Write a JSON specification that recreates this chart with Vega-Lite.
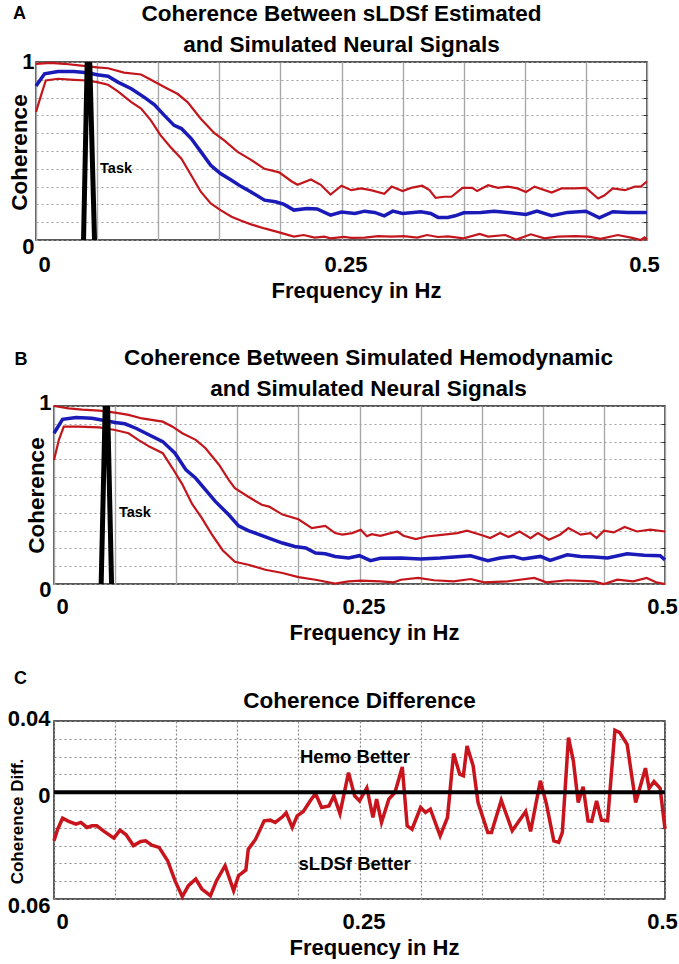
{
  "$schema": "https://vega.github.io/schema/vega-lite/v6.json",
  "padding": {"left": 0, "top": 2, "right": 0, "bottom": 0},
  "background": "white",
  "columns": 1,
  "spacing": 25,
  "config": {
    "font": "Liberation Sans",
    "view": {"stroke": "#222", "strokeWidth": 1.5},
    "axis": {"labelFont": "Liberation Sans", "titleFont": "Liberation Sans", "labelFontWeight": "bold", "titleFontWeight": "bold", "labelColor": "black", "titleColor": "black", "labelOverlap": false, "labelFlush": false, "ticks": false, "tickSize": 0, "domain": false},
    "title": {"font": "Liberation Sans", "fontWeight": "bold", "color": "black"}
  },
  "datasets": {
    "A": [
      {"f":0,"s":"up","v":0.99},{"f":0.012,"s":"up","v":0.995},{"f":0.023,"s":"up","v":0.99},{"f":0.037,"s":"up","v":0.98},{"f":0.05,"s":"up","v":0.97},{"f":0.059,"s":"up","v":0.965},{"f":0.072,"s":"up","v":0.94},{"f":0.086,"s":"up","v":0.93},{"f":0.094,"s":"up","v":0.9},{"f":0.105,"s":"up","v":0.86},{"f":0.116,"s":"up","v":0.82},{"f":0.124,"s":"up","v":0.775},{"f":0.135,"s":"up","v":0.68},{"f":0.146,"s":"up","v":0.6},{"f":0.154,"s":"up","v":0.56},{"f":0.165,"s":"up","v":0.495},{"f":0.176,"s":"up","v":0.45},{"f":0.187,"s":"up","v":0.4},{"f":0.199,"s":"up","v":0.38},{"f":0.209,"s":"up","v":0.33},{"f":0.214,"s":"up","v":0.31},{"f":0.225,"s":"up","v":0.34},{"f":0.233,"s":"up","v":0.31},{"f":0.241,"s":"up","v":0.255},{"f":0.25,"s":"up","v":0.305},{"f":0.258,"s":"up","v":0.28},{"f":0.266,"s":"up","v":0.29},{"f":0.274,"s":"up","v":0.28},{"f":0.285,"s":"up","v":0.26},{"f":0.291,"s":"up","v":0.3},{"f":0.3,"s":"up","v":0.275},{"f":0.307,"s":"up","v":0.293},{"f":0.316,"s":"up","v":0.305},{"f":0.322,"s":"up","v":0.28},{"f":0.327,"s":"up","v":0.237},{"f":0.334,"s":"up","v":0.243},{"f":0.34,"s":"up","v":0.243},{"f":0.349,"s":"up","v":0.293},{"f":0.357,"s":"up","v":0.293},{"f":0.361,"s":"up","v":0.275},{"f":0.37,"s":"up","v":0.308},{"f":0.378,"s":"up","v":0.293},{"f":0.386,"s":"up","v":0.3},{"f":0.394,"s":"up","v":0.29},{"f":0.401,"s":"up","v":0.27},{"f":0.408,"s":"up","v":0.3},{"f":0.422,"s":"up","v":0.267},{"f":0.43,"s":"up","v":0.29},{"f":0.441,"s":"up","v":0.29},{"f":0.45,"s":"up","v":0.293},{"f":0.46,"s":"up","v":0.233},{"f":0.465,"s":"up","v":0.25},{"f":0.472,"s":"up","v":0.29},{"f":0.482,"s":"up","v":0.28},{"f":0.49,"s":"up","v":0.3},{"f":0.495,"s":"up","v":0.3},{"f":0.5,"s":"up","v":0.33},
      {"f":0,"s":"mean","v":0.865},{"f":0.007,"s":"mean","v":0.934},{"f":0.018,"s":"mean","v":0.947},{"f":0.031,"s":"mean","v":0.947},{"f":0.042,"s":"mean","v":0.94},{"f":0.05,"s":"mean","v":0.928},{"f":0.059,"s":"mean","v":0.92},{"f":0.067,"s":"mean","v":0.887},{"f":0.078,"s":"mean","v":0.85},{"f":0.089,"s":"mean","v":0.8},{"f":0.097,"s":"mean","v":0.76},{"f":0.105,"s":"mean","v":0.7},{"f":0.113,"s":"mean","v":0.644},{"f":0.119,"s":"mean","v":0.626},{"f":0.127,"s":"mean","v":0.57},{"f":0.135,"s":"mean","v":0.495},{"f":0.143,"s":"mean","v":0.42},{"f":0.151,"s":"mean","v":0.373},{"f":0.16,"s":"mean","v":0.336},{"f":0.168,"s":"mean","v":0.3},{"f":0.176,"s":"mean","v":0.27},{"f":0.187,"s":"mean","v":0.224},{"f":0.196,"s":"mean","v":0.215},{"f":0.203,"s":"mean","v":0.2},{"f":0.211,"s":"mean","v":0.168},{"f":0.222,"s":"mean","v":0.177},{"f":0.23,"s":"mean","v":0.174},{"f":0.241,"s":"mean","v":0.14},{"f":0.25,"s":"mean","v":0.157},{"f":0.261,"s":"mean","v":0.149},{"f":0.269,"s":"mean","v":0.162},{"f":0.277,"s":"mean","v":0.155},{"f":0.285,"s":"mean","v":0.136},{"f":0.292,"s":"mean","v":0.162},{"f":0.3,"s":"mean","v":0.149},{"f":0.315,"s":"mean","v":0.159},{"f":0.323,"s":"mean","v":0.149},{"f":0.329,"s":"mean","v":0.127},{"f":0.337,"s":"mean","v":0.127},{"f":0.343,"s":"mean","v":0.136},{"f":0.35,"s":"mean","v":0.153},{"f":0.364,"s":"mean","v":0.155},{"f":0.375,"s":"mean","v":0.162},{"f":0.386,"s":"mean","v":0.155},{"f":0.401,"s":"mean","v":0.144},{"f":0.41,"s":"mean","v":0.162},{"f":0.422,"s":"mean","v":0.136},{"f":0.435,"s":"mean","v":0.155},{"f":0.45,"s":"mean","v":0.162},{"f":0.461,"s":"mean","v":0.125},{"f":0.472,"s":"mean","v":0.159},{"f":0.484,"s":"mean","v":0.155},{"f":0.5,"s":"mean","v":0.155},
      {"f":0,"s":"lo","v":0.72},{"f":0.004,"s":"lo","v":0.81},{"f":0.008,"s":"lo","v":0.896},{"f":0.018,"s":"lo","v":0.906},{"f":0.031,"s":"lo","v":0.9},{"f":0.042,"s":"lo","v":0.896},{"f":0.05,"s":"lo","v":0.887},{"f":0.059,"s":"lo","v":0.872},{"f":0.067,"s":"lo","v":0.835},{"f":0.078,"s":"lo","v":0.775},{"f":0.086,"s":"lo","v":0.738},{"f":0.094,"s":"lo","v":0.672},{"f":0.102,"s":"lo","v":0.588},{"f":0.11,"s":"lo","v":0.523},{"f":0.119,"s":"lo","v":0.457},{"f":0.127,"s":"lo","v":0.364},{"f":0.135,"s":"lo","v":0.27},{"f":0.143,"s":"lo","v":0.205},{"f":0.151,"s":"lo","v":0.168},{"f":0.16,"s":"lo","v":0.131},{"f":0.168,"s":"lo","v":0.108},{"f":0.176,"s":"lo","v":0.088},{"f":0.187,"s":"lo","v":0.065},{"f":0.199,"s":"lo","v":0.043},{"f":0.211,"s":"lo","v":0.019},{"f":0.219,"s":"lo","v":0.028},{"f":0.228,"s":"lo","v":0.013},{"f":0.236,"s":"lo","v":0.019},{"f":0.241,"s":"lo","v":0.009},{"f":0.252,"s":"lo","v":0.017},{"f":0.258,"s":"lo","v":0.012},{"f":0.269,"s":"lo","v":0.013},{"f":0.28,"s":"lo","v":0.022},{"f":0.291,"s":"lo","v":0.019},{"f":0.301,"s":"lo","v":0.022},{"f":0.312,"s":"lo","v":0.013},{"f":0.32,"s":"lo","v":0.028},{"f":0.329,"s":"lo","v":0.017},{"f":0.337,"s":"lo","v":0.02},{"f":0.35,"s":"lo","v":0.009},{"f":0.363,"s":"lo","v":0.034},{"f":0.37,"s":"lo","v":0.019},{"f":0.384,"s":"lo","v":0.028},{"f":0.393,"s":"lo","v":0.002},{"f":0.405,"s":"lo","v":0.032},{"f":0.416,"s":"lo","v":0.009},{"f":0.427,"s":"lo","v":0.019},{"f":0.441,"s":"lo","v":0.022},{"f":0.452,"s":"lo","v":0.019},{"f":0.462,"s":"lo","v":0.006},{"f":0.476,"s":"lo","v":0.028},{"f":0.487,"s":"lo","v":0.013},{"f":0.495,"s":"lo","v":0.0},{"f":0.498,"s":"lo","v":0.015},{"f":0.5,"s":"lo","v":0.002}
    ],
    "B": [
      {"f":0,"s":"up","v":1.0},{"f":0.012,"s":"up","v":0.987},{"f":0.023,"s":"up","v":0.98},{"f":0.037,"s":"up","v":0.974},{"f":0.05,"s":"up","v":0.963},{"f":0.061,"s":"up","v":0.95},{"f":0.072,"s":"up","v":0.93},{"f":0.089,"s":"up","v":0.912},{"f":0.097,"s":"up","v":0.884},{"f":0.105,"s":"up","v":0.847},{"f":0.116,"s":"up","v":0.81},{"f":0.124,"s":"up","v":0.763},{"f":0.135,"s":"up","v":0.67},{"f":0.143,"s":"up","v":0.585},{"f":0.148,"s":"up","v":0.538},{"f":0.159,"s":"up","v":0.49},{"f":0.17,"s":"up","v":0.445},{"f":0.176,"s":"up","v":0.435},{"f":0.187,"s":"up","v":0.39},{"f":0.2,"s":"up","v":0.364},{"f":0.211,"s":"up","v":0.314},{"f":0.222,"s":"up","v":0.327},{"f":0.23,"s":"up","v":0.286},{"f":0.236,"s":"up","v":0.277},{"f":0.244,"s":"up","v":0.286},{"f":0.251,"s":"up","v":0.305},{"f":0.256,"s":"up","v":0.268},{"f":0.26,"s":"up","v":0.28},{"f":0.267,"s":"up","v":0.271},{"f":0.281,"s":"up","v":0.295},{"f":0.286,"s":"up","v":0.271},{"f":0.296,"s":"up","v":0.252},{"f":0.305,"s":"up","v":0.267},{"f":0.319,"s":"up","v":0.277},{"f":0.33,"s":"up","v":0.286},{"f":0.338,"s":"up","v":0.3},{"f":0.349,"s":"up","v":0.277},{"f":0.357,"s":"up","v":0.258},{"f":0.365,"s":"up","v":0.286},{"f":0.372,"s":"up","v":0.264},{"f":0.381,"s":"up","v":0.295},{"f":0.39,"s":"up","v":0.258},{"f":0.396,"s":"up","v":0.286},{"f":0.405,"s":"up","v":0.249},{"f":0.414,"s":"up","v":0.277},{"f":0.421,"s":"up","v":0.314},{"f":0.431,"s":"up","v":0.277},{"f":0.439,"s":"up","v":0.286},{"f":0.444,"s":"up","v":0.258},{"f":0.45,"s":"up","v":0.299},{"f":0.458,"s":"up","v":0.29},{"f":0.467,"s":"up","v":0.32},{"f":0.477,"s":"up","v":0.295},{"f":0.488,"s":"up","v":0.305},{"f":0.5,"s":"up","v":0.295},
      {"f":0,"s":"mean","v":0.847},{"f":0.007,"s":"mean","v":0.925},{"f":0.018,"s":"mean","v":0.935},{"f":0.031,"s":"mean","v":0.931},{"f":0.039,"s":"mean","v":0.921},{"f":0.05,"s":"mean","v":0.907},{"f":0.058,"s":"mean","v":0.9},{"f":0.067,"s":"mean","v":0.875},{"f":0.078,"s":"mean","v":0.837},{"f":0.089,"s":"mean","v":0.8},{"f":0.099,"s":"mean","v":0.735},{"f":0.108,"s":"mean","v":0.641},{"f":0.116,"s":"mean","v":0.594},{"f":0.124,"s":"mean","v":0.529},{"f":0.132,"s":"mean","v":0.464},{"f":0.143,"s":"mean","v":0.389},{"f":0.151,"s":"mean","v":0.327},{"f":0.159,"s":"mean","v":0.3},{"f":0.168,"s":"mean","v":0.277},{"f":0.178,"s":"mean","v":0.252},{"f":0.187,"s":"mean","v":0.23},{"f":0.197,"s":"mean","v":0.211},{"f":0.206,"s":"mean","v":0.202},{"f":0.214,"s":"mean","v":0.174},{"f":0.222,"s":"mean","v":0.17},{"f":0.23,"s":"mean","v":0.155},{"f":0.241,"s":"mean","v":0.146},{"f":0.25,"s":"mean","v":0.159},{"f":0.259,"s":"mean","v":0.131},{"f":0.267,"s":"mean","v":0.144},{"f":0.284,"s":"mean","v":0.146},{"f":0.3,"s":"mean","v":0.14},{"f":0.316,"s":"mean","v":0.146},{"f":0.333,"s":"mean","v":0.155},{"f":0.341,"s":"mean","v":0.159},{"f":0.355,"s":"mean","v":0.131},{"f":0.365,"s":"mean","v":0.146},{"f":0.376,"s":"mean","v":0.155},{"f":0.384,"s":"mean","v":0.14},{"f":0.398,"s":"mean","v":0.155},{"f":0.406,"s":"mean","v":0.133},{"f":0.42,"s":"mean","v":0.164},{"f":0.431,"s":"mean","v":0.155},{"f":0.442,"s":"mean","v":0.151},{"f":0.453,"s":"mean","v":0.146},{"f":0.469,"s":"mean","v":0.17},{"f":0.483,"s":"mean","v":0.161},{"f":0.496,"s":"mean","v":0.159},{"f":0.5,"s":"mean","v":0.136},
      {"f":0,"s":"lo","v":0.697},{"f":0.004,"s":"lo","v":0.81},{"f":0.008,"s":"lo","v":0.884},{"f":0.02,"s":"lo","v":0.884},{"f":0.037,"s":"lo","v":0.88},{"f":0.05,"s":"lo","v":0.865},{"f":0.061,"s":"lo","v":0.847},{"f":0.069,"s":"lo","v":0.81},{"f":0.078,"s":"lo","v":0.772},{"f":0.089,"s":"lo","v":0.735},{"f":0.097,"s":"lo","v":0.65},{"f":0.105,"s":"lo","v":0.56},{"f":0.113,"s":"lo","v":0.45},{"f":0.121,"s":"lo","v":0.37},{"f":0.129,"s":"lo","v":0.28},{"f":0.138,"s":"lo","v":0.19},{"f":0.148,"s":"lo","v":0.125},{"f":0.159,"s":"lo","v":0.108},{"f":0.173,"s":"lo","v":0.08},{"f":0.187,"s":"lo","v":0.062},{"f":0.2,"s":"lo","v":0.039},{"f":0.214,"s":"lo","v":0.024},{"f":0.23,"s":"lo","v":0.002},{"f":0.241,"s":"lo","v":0.015},{"f":0.251,"s":"lo","v":0.019},{"f":0.267,"s":"lo","v":0.015},{"f":0.278,"s":"lo","v":0.009},{"f":0.284,"s":"lo","v":0.024},{"f":0.298,"s":"lo","v":0.034},{"f":0.311,"s":"lo","v":0.021},{"f":0.327,"s":"lo","v":0.015},{"f":0.341,"s":"lo","v":0.028},{"f":0.352,"s":"lo","v":0.009},{"f":0.371,"s":"lo","v":0.015},{"f":0.393,"s":"lo","v":0.034},{"f":0.403,"s":"lo","v":0.009},{"f":0.42,"s":"lo","v":0.021},{"f":0.442,"s":"lo","v":0.015},{"f":0.45,"s":"lo","v":0.0},{"f":0.461,"s":"lo","v":0.024},{"f":0.474,"s":"lo","v":0.015},{"f":0.485,"s":"lo","v":0.034},{"f":0.493,"s":"lo","v":0.009},{"f":0.5,"s":"lo","v":0.0}
    ],
    "C": [
      {"f":0,"v":-0.0273},{"f":0.003,"v":-0.0208},{"f":0.007,"v":-0.0146},{"f":0.012,"v":-0.0164},{"f":0.018,"v":-0.0179},{"f":0.022,"v":-0.017},{"f":0.027,"v":-0.0198},{"f":0.031,"v":-0.0189},{"f":0.035,"v":-0.0189},{"f":0.041,"v":-0.022},{"f":0.049,"v":-0.0258},{"f":0.054,"v":-0.0213},{"f":0.059,"v":-0.0239},{"f":0.065,"v":-0.03},{"f":0.071,"v":-0.0277},{"f":0.075,"v":-0.0273},{"f":0.08,"v":-0.0297},{"f":0.086,"v":-0.031},{"f":0.093,"v":-0.0385},{"f":0.099,"v":-0.0497},{"f":0.105,"v":-0.0587},{"f":0.11,"v":-0.0525},{"f":0.116,"v":-0.0488},{"f":0.121,"v":-0.0544},{"f":0.128,"v":-0.0581},{"f":0.133,"v":-0.0497},{"f":0.14,"v":-0.0413},{"f":0.147,"v":-0.0553},{"f":0.151,"v":-0.0469},{"f":0.157,"v":-0.0437},{"f":0.159,"v":-0.032},{"f":0.165,"v":-0.0264},{"f":0.172,"v":-0.0161},{"f":0.177,"v":-0.0157},{"f":0.181,"v":-0.017},{"f":0.187,"v":-0.0138},{"f":0.19,"v":-0.0116},{"f":0.195,"v":-0.0198},{"f":0.199,"v":-0.0133},{"f":0.204,"v":-0.0108},{"f":0.21,"v":-0.0045},{"f":0.214,"v":-0.0007},{"f":0.219,"v":-0.0086},{"f":0.225,"v":-0.0077},{"f":0.229,"v":-0.002},{"f":0.234,"v":-0.012},{"f":0.241,"v":0.011},{"f":0.246,"v":-0.002},{"f":0.25,"v":-0.0049},{"f":0.256,"v":0.0024},{"f":0.261,"v":-0.0142},{"f":0.264,"v":-0.0039},{"f":0.268,"v":-0.017},{"f":0.274,"v":-0.0039},{"f":0.279,"v":-0.0002},{"f":0.285,"v":0.0142},{"f":0.289,"v":-0.0189},{"f":0.293,"v":-0.0208},{"f":0.3,"v":-0.0086},{"f":0.304,"v":-0.0114},{"f":0.308,"v":-0.0095},{"f":0.316,"v":-0.0245},{"f":0.322,"v":-0.0142},{"f":0.327,"v":0.0217},{"f":0.332,"v":0.0101},{"f":0.335,"v":0.0092},{"f":0.338,"v":0.026},{"f":0.343,"v":0.0148},{"f":0.347,"v":-0.0058},{"f":0.355,"v":-0.0226},{"f":0.358,"v":-0.0226},{"f":0.366,"v":-0.0045},{"f":0.375,"v":-0.0217},{"f":0.386,"v":-0.0108},{"f":0.39,"v":-0.022},{"f":0.398,"v":0.0064},{"f":0.403,"v":-0.0067},{"f":0.409,"v":-0.0273},{"f":0.413,"v":-0.0282},{"f":0.416,"v":-0.0226},{"f":0.421,"v":0.0307},{"f":0.425,"v":0.0176},{"f":0.429,"v":-0.0058},{"f":0.433,"v":0.003},{"f":0.437,"v":-0.0161},{"f":0.44,"v":-0.0164},{"f":0.444,"v":-0.0049},{"f":0.448,"v":-0.0157},{"f":0.453,"v":-0.0161},{"f":0.459,"v":0.0348},{"f":0.463,"v":0.0335},{"f":0.469,"v":0.0269},{"f":0.476,"v":-0.0058},{"f":0.484,"v":0.0135},{"f":0.487,"v":0.0022},{"f":0.491,"v":0.006},{"f":0.496,"v":0.0022},{"f":0.5,"v":-0.0207}
    ]
  },
  "concat": [
    {
      "width": 611, "height": 178,
      "title": {"text": ["Coherence Between sLDSf Estimated", "and Simulated Neural Signals"], "anchor": "middle", "frame": "group", "fontSize": 22.5, "lineHeight": 31.5, "offset": -51.8},
      "data": {"name": "A"},
      "resolve": {"axis": {"y": "independent"}},
      "layer": [
        {
          "transform": [{"filter": "datum.s === 'up'"}],
          "mark": {"type": "line", "color": "#c3161c", "strokeWidth": 2.2},
          "encoding": {
            "x": {"field": "f", "type": "quantitative", "scale": {"domain": [0, 0.5], "nice": false},
              "axis": {"title": "Frequency in Hz", "values": [0,0.05,0.1,0.15,0.2,0.25,0.3,0.35,0.4,0.45,0.5], "labelExpr": "datum.value===0?'0':datum.value===0.25?'0.25':datum.value===0.5?'0.5':''", "labelOverlap": false, "grid": true, "gridColor": "#a8a8a8", "gridWidth": 1.4, "labelFontSize": 22, "labelPadding": 14.5, "labelOffset": {"condition": [{"test": "datum.value===0", "value": 8}, {"test": "datum.value===0.5", "value": -3}], "value": 4}, "titleFontSize": 22, "titleX": 320, "minExtent": 80, "titlePadding": -40}},
            "y": {"field": "v", "type": "quantitative", "scale": {"domain": [0, 1], "nice": false},
              "axis": {"title": "Coherence", "values": [0,0.1,0.2,0.3,0.4,0.5,0.6,0.7,0.8,0.9,1], "labelExpr": "datum.value===1?'1':datum.value===0?'0':''", "labelOverlap": false, "grid": true, "gridColor": "#a0a0a0", "gridDash": [2, 3], "gridWidth": 1.2, "labelFontSize": 22, "labelPadding": 2, "labelOffset": {"condition": {"test": "datum.value===0", "value": 6}, "value": -1}, "titleFontSize": 22.5, "titleY": 90, "minExtent": 35, "titlePadding": -30.7}}
          }
        },
        {
          "transform": [{"filter": "datum.s === 'lo'"}],
          "mark": {"type": "line", "color": "#c3161c", "strokeWidth": 2.2},
          "encoding": {"x": {"field": "f", "type": "quantitative"}, "y": {"field": "v", "type": "quantitative",
            "axis": {"orient": "right", "labels": false, "title": null, "grid": false, "ticks": true, "tickSize": -4, "tickColor": "#333", "tickWidth": 1, "values": [0.1,0.2,0.3,0.4,0.5,0.6,0.7,0.8,0.9], "minExtent": 0, "maxExtent": 0}}}
        },
        {
          "transform": [{"filter": "datum.s === 'mean'"}],
          "mark": {"type": "line", "color": "#1a1ab8", "strokeWidth": 3.5},
          "encoding": {"x": {"field": "f", "type": "quantitative"}, "y": {"field": "v", "type": "quantitative", "axis": null}}
        },
        {
          "data": {"values": [{"f": 0.0389, "v": 0}, {"f": 0.0428, "v": 1.3}, {"f": 0.0479, "v": 0}]},
          "mark": {"type": "line", "color": "black", "strokeWidth": 5, "clip": true},
          "encoding": {"x": {"field": "f", "type": "quantitative"}, "y": {"field": "v", "type": "quantitative", "axis": null}}
        },
        {
          "data": {"values": [{"label": "Task", "f": 0.0524, "v": 0.4}]},
          "mark": {"type": "text", "align": "left", "baseline": "middle", "fontSize": 14.5, "fontWeight": "bold", "color": "black"},
          "encoding": {"x": {"field": "f", "type": "quantitative"}, "y": {"field": "v", "type": "quantitative", "axis": null}, "text": {"field": "label"}}
        },
        {
          "data": {"values": [{"label": "A", "f": -0.0135, "v": 1.2416}]},
          "mark": {"type": "text", "align": "center", "baseline": "alphabetic", "fontSize": 18, "fontWeight": "bold", "color": "black"},
          "encoding": {"x": {"field": "f", "type": "quantitative"}, "y": {"field": "v", "type": "quantitative", "axis": null}, "text": {"field": "label"}}
        }
      ]
    },
    {
      "hconcat": [
        {"width": 18, "height": 10, "view": {"stroke": null}, "data": {"values": [{"a": 0}]}, "mark": {"type": "point", "opacity": 0}, "encoding": {}},
        {
          "width": 611, "height": 178,
          "title": {"text": ["Coherence Between Simulated Hemodynamic", "and Simulated Neural Signals"], "anchor": "middle", "frame": "group", "fontSize": 22.5, "lineHeight": 30.5, "offset": -49, "dx": 9},
          "data": {"name": "B"},
          "resolve": {"axis": {"y": "independent"}},
          "layer": [
            {
              "transform": [{"filter": "datum.s === 'up'"}],
              "mark": {"type": "line", "color": "#c3161c", "strokeWidth": 2.2},
              "encoding": {
                "x": {"field": "f", "type": "quantitative", "scale": {"domain": [0, 0.5], "nice": false},
                  "axis": {"title": "Frequency in Hz", "values": [0,0.05,0.1,0.15,0.2,0.25,0.3,0.35,0.4,0.45,0.5], "labelExpr": "datum.value===0?'0':datum.value===0.25?'0.25':datum.value===0.5?'0.5':''", "labelOverlap": false, "grid": true, "gridColor": "#a8a8a8", "gridWidth": 1.4, "labelFontSize": 22, "labelPadding": 12.5, "labelOffset": {"condition": [{"test": "datum.value===0", "value": 8}, {"test": "datum.value===0.5", "value": -3}], "value": 4}, "titleFontSize": 22, "titleX": 320, "minExtent": 40, "titlePadding": -2}},
                "y": {"field": "v", "type": "quantitative", "scale": {"domain": [0, 1], "nice": false},
                  "axis": {"title": "Coherence", "values": [0,0.1,0.2,0.3,0.4,0.5,0.6,0.7,0.8,0.9,1], "labelExpr": "datum.value===1?'1':datum.value===0?'0':''", "labelOverlap": false, "grid": true, "gridColor": "#a0a0a0", "gridDash": [2, 3], "gridWidth": 1.2, "labelFontSize": 22, "labelPadding": 3, "labelOffset": {"condition": {"test": "datum.value===0", "value": 5}, "value": -4}, "titleFontSize": 22.5, "titleY": 89, "minExtent": 53, "titlePadding": -47.7}}
              }
            },
            {
              "transform": [{"filter": "datum.s === 'lo'"}],
              "mark": {"type": "line", "color": "#c3161c", "strokeWidth": 2.2},
              "encoding": {"x": {"field": "f", "type": "quantitative"}, "y": {"field": "v", "type": "quantitative",
                "axis": {"orient": "right", "labels": false, "title": null, "grid": false, "ticks": true, "tickSize": -4, "tickColor": "#333", "tickWidth": 1, "values": [0.1,0.2,0.3,0.4,0.5,0.6,0.7,0.8,0.9], "minExtent": 0, "maxExtent": 0}}}
            },
            {
              "transform": [{"filter": "datum.s === 'mean'"}],
              "mark": {"type": "line", "color": "#1a1ab8", "strokeWidth": 3.5},
              "encoding": {"x": {"field": "f", "type": "quantitative"}, "y": {"field": "v", "type": "quantitative", "axis": null}}
            },
            {
              "data": {"values": [{"f": 0.0386, "v": 0}, {"f": 0.0429, "v": 1.3}, {"f": 0.0471, "v": 0}]},
              "mark": {"type": "line", "color": "black", "strokeWidth": 5, "clip": true},
              "encoding": {"x": {"field": "f", "type": "quantitative"}, "y": {"field": "v", "type": "quantitative", "axis": null}}
            },
            {
              "data": {"values": [{"label": "Task", "f": 0.0531, "v": 0.4}]},
              "mark": {"type": "text", "align": "left", "baseline": "middle", "fontSize": 14.5, "fontWeight": "bold", "color": "black"},
              "encoding": {"x": {"field": "f", "type": "quantitative"}, "y": {"field": "v", "type": "quantitative", "axis": null}, "text": {"field": "label"}}
            },
            {
              "data": {"values": [{"label": "B", "f": -0.027, "v": 1.23}]},
              "mark": {"type": "text", "align": "center", "baseline": "alphabetic", "fontSize": 18, "fontWeight": "bold", "color": "black"},
              "encoding": {"x": {"field": "f", "type": "quantitative"}, "y": {"field": "v", "type": "quantitative", "axis": null}, "text": {"field": "label"}}
            }
          ]
        }
      ],
      "spacing": 0,
      "bounds": "flush"
    },
    {
      "hconcat": [
        {"width": 18, "height": 10, "view": {"stroke": null}, "data": {"values": [{"a": 0}]}, "mark": {"type": "point", "opacity": 0}, "encoding": {}},
        {
          "width": 611, "height": 178,
          "title": {"text": "Coherence Difference", "anchor": "middle", "frame": "group", "fontSize": 22.5, "offset": -42.1},
          "data": {"name": "C"},
          "resolve": {"axis": {"y": "independent"}},
          "layer": [
            {
              "mark": {"type": "line", "color": "#c8141c", "strokeWidth": 3.5},
              "encoding": {
                "x": {"field": "f", "type": "quantitative", "scale": {"domain": [0, 0.5], "nice": false},
                  "axis": {"title": "Frequency in Hz", "values": [0,0.05,0.1,0.15,0.2,0.25,0.3,0.35,0.4,0.45,0.5], "labelExpr": "datum.value===0?'0':datum.value===0.25?'0.25':datum.value===0.5?'0.5':''", "labelOverlap": false, "grid": true, "gridColor": "#8a8a8a", "gridDash": [2, 2], "gridWidth": 1.2, "labelFontSize": 22, "labelPadding": 12.5, "labelOffset": {"condition": [{"test": "datum.value===0", "value": 8}, {"test": "datum.value===0.5", "value": -3}], "value": 4}, "titleFontSize": 22, "titleX": 320, "minExtent": 40, "titlePadding": -2}},
                "y": {"field": "v", "type": "quantitative", "scale": {"domain": [-0.06, 0.04], "nice": false},
                  "axis": {"title": "Coherence Diff.", "values": [-0.06,-0.05,-0.04,-0.03,-0.02,-0.01,0,0.01,0.02,0.03,0.04], "labelExpr": "datum.value===0.04?'0.04':datum.value===0?'0':datum.value===-0.06?'0.06':''", "labelOverlap": false, "grid": true, "gridColor": "#8a8a8a", "gridDash": [2, 3], "gridWidth": 1.2, "labelFontSize": 22, "labelPadding": 4, "labelOffset": {"condition": [{"test": "datum.value===-0.06", "value": 6}, {"test": "datum.value===0.04", "value": -3}], "value": 3}, "titleFontSize": 17, "titleY": 100, "minExtent": 53, "titlePadding": -25.6}}
              }
            },
            {
              "data": {"values": [{"v": 0}]},
              "mark": {"type": "rule", "color": "black", "strokeWidth": 4},
              "encoding": {"y": {"field": "v", "type": "quantitative",
                "axis": {"orient": "right", "labels": false, "title": null, "grid": false, "ticks": true, "tickSize": -4, "tickColor": "#333", "tickWidth": 1, "values": [-0.05,-0.04,-0.03,-0.02,-0.01,0.01,0.02,0.03], "minExtent": 0, "maxExtent": 0}}}
            },
            {
              "data": {"values": [{"label": "Hemo Better", "f": 0.2463, "v": 0.0195}, {"label": "sLDSf Better", "f": 0.246, "v": -0.0403}]},
              "mark": {"type": "text", "align": "center", "baseline": "middle", "fontSize": 18.5, "fontWeight": "bold", "color": "black"},
              "encoding": {"x": {"field": "f", "type": "quantitative"}, "y": {"field": "v", "type": "quantitative", "axis": null}, "text": {"field": "label"}}
            },
            {
              "data": {"values": [{"label": "C", "f": -0.0274, "v": 0.0608}]},
              "mark": {"type": "text", "align": "center", "baseline": "alphabetic", "fontSize": 18, "fontWeight": "bold", "color": "black"},
              "encoding": {"x": {"field": "f", "type": "quantitative"}, "y": {"field": "v", "type": "quantitative", "axis": null}, "text": {"field": "label"}}
            }
          ]
        }
      ],
      "spacing": 0,
      "bounds": "flush"
    }
  ]
}
